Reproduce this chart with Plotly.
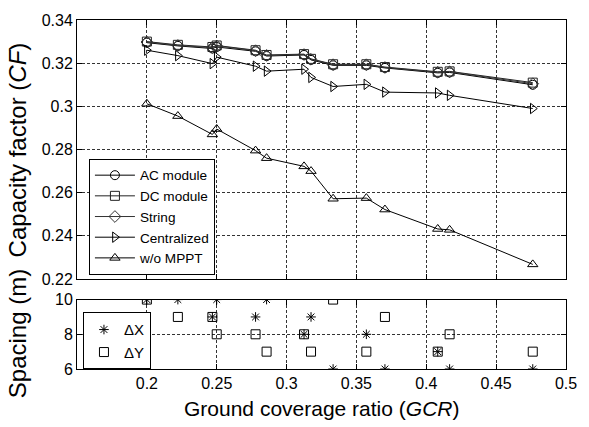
import plotly.graph_objects as go

# ---- data ----
gcr = [0.2, 0.2222, 0.2469, 0.25, 0.2778, 0.2857, 0.3125, 0.3175, 0.3333,
       0.3571, 0.3704, 0.4082, 0.4167, 0.4762]
cf_ac = [0.3295, 0.3280, 0.3268, 0.3275, 0.3255, 0.3233, 0.3238, 0.3215, 0.3190,
         0.3190, 0.3178, 0.3155, 0.3157, 0.3100]
cf_dc = [0.3300, 0.3285, 0.3275, 0.3282, 0.3260, 0.3238, 0.3242, 0.3220, 0.3195,
         0.3195, 0.3182, 0.3160, 0.3162, 0.3110]
cf_string = [0.3298, 0.3282, 0.3272, 0.3280, 0.3258, 0.3236, 0.3240, 0.3218, 0.3193,
             0.3193, 0.3180, 0.3158, 0.3160, 0.3105]
cf_central = [0.3260, 0.3235, 0.3198, 0.3228, 0.3186, 0.3163, 0.3172, 0.3134, 0.3092,
              0.3102, 0.3066, 0.3062, 0.3051, 0.2990]
cf_nomppt = [0.3012, 0.2955, 0.2870, 0.2895, 0.2795, 0.2760, 0.2722, 0.2700, 0.2572,
             0.2575, 0.2522, 0.2432, 0.2428, 0.2268]
dx = [10, 10, 9, 10, 9, 10, 8, 9, 6, 8, 6, 7, 6, 6]
dy = [10, 9, 9, 8, 8, 7, 8, 7, 10, 7, 9, 7, 8, 7]

x_ticks = [0.2, 0.25, 0.3, 0.35, 0.4, 0.45, 0.5]
x_ticklabels = ["0.2", "0.25", "0.3", "0.35", "0.4", "0.45", "0.5"]
cf_ticks = [0.22, 0.24, 0.26, 0.28, 0.3, 0.32, 0.34]
cf_ticklabels = ["0.22", "0.24", "0.26", "0.28", "0.3", "0.32", "0.34"]
sp_ticks = [6, 8, 10]

FONT = "Liberation Sans, Arial, Helvetica, sans-serif"
W, H = 589, 427
L, R, T, B = 77, 20, 12, 58
PH = H - T - B

fig = go.Figure()

series = [
    ("AC module", cf_ac, "circle-open", "#000000"),
    ("DC module", cf_dc, "square-open", "#222222"),
    ("String", cf_string, "diamond-open", "#333333"),
    ("Centralized", cf_central, "triangle-right-open", "#000000"),
    ("w/o MPPT", cf_nomppt, "triangle-up-open", "#000000"),
]
for name, ys, sym, col in series:
    fig.add_trace(go.Scatter(
        x=gcr, y=ys, name=name, mode="lines+markers",
        line=dict(color=col, width=1),
        marker=dict(symbol=sym, size=9, color=col, line=dict(width=1, color=col)),
        xaxis="x", yaxis="y", legend="legend"))

fig.add_trace(go.Scatter(
    x=gcr, y=dx, name="ΔX", mode="markers",
    marker=dict(symbol="asterisk-open", size=8, color="black", line=dict(width=1, color="black")),
    xaxis="x2", yaxis="y2", legend="legend2"))
fig.add_trace(go.Scatter(
    x=gcr, y=dy, name="ΔY", mode="markers",
    marker=dict(symbol="square-open", size=9, color="black", line=dict(width=1, color="black")),
    xaxis="x2", yaxis="y2", legend="legend2"))

def py(p):  # pixel y -> paper
    return (H - B - p) / PH

def px(p):
    return (p - L) / (W - L - R)

axis_common = dict(
    showline=True, linecolor="black", linewidth=1, mirror="ticks",
    ticks="inside", ticklen=5, tickcolor="black",
    showgrid=True, gridcolor="#333333", gridwidth=1, griddash="3px,2px",
    zeroline=False, tickfont=dict(family=FONT, size=16, color="black"),
)

top_dom = [py(277), 1.0]
bot_dom = [0.0, py(298)]

fig.update_layout(
    width=W, height=H,
    margin=dict(l=L, r=R, t=T, b=B),
    paper_bgcolor="white", plot_bgcolor="white",
    font=dict(family=FONT, color="black"),
    xaxis=dict(range=[0.15, 0.5], tickvals=x_ticks, showticklabels=False,
               domain=[0, 1], anchor="y", **axis_common),
    yaxis=dict(range=[0.22, 0.34], tickvals=cf_ticks, ticktext=cf_ticklabels,
               domain=top_dom, anchor="x", **axis_common),
    xaxis2=dict(range=[0.15, 0.5], tickvals=x_ticks, ticktext=x_ticklabels,
                domain=[0, 1], anchor="y2", **axis_common),
    yaxis2=dict(range=[6, 10], tickvals=sp_ticks, domain=bot_dom, anchor="x2",
                **axis_common),
    legend=dict(x=px(89), y=py(154), xanchor="left", yanchor="top",
                bordercolor="black", borderwidth=1, bgcolor="white",
                font=dict(family=FONT, size=13.6, color="black"),
                itemwidth=40, tracegroupgap=0),
    legend2=dict(x=px(83), y=py(311), xanchor="left", yanchor="top",
                 bordercolor="black", borderwidth=1, bgcolor="white",
                 font=dict(family=FONT, size=15, color="black"),
                 itemwidth=30, tracegroupgap=0),
    showlegend=True,
)

fig.add_annotation(text="Capacity factor (<i>CF</i>)", xref="paper", yref="paper",
                   x=px(17), y=py(145), textangle=-90, showarrow=False,
                   xanchor="center", yanchor="middle",
                   font=dict(family=FONT, size=24, color="black"))
fig.add_annotation(text="Spacing (m)", xref="paper", yref="paper",
                   x=px(17), y=py(333), textangle=-90, showarrow=False,
                   xanchor="center", yanchor="middle",
                   font=dict(family=FONT, size=24, color="black"))
fig.add_annotation(text="Ground coverage ratio (<i>GCR</i>)", xref="paper", yref="paper",
                   x=px(323), y=py(409), showarrow=False,
                   xanchor="center", yanchor="middle",
                   font=dict(family=FONT, size=21, color="black"))

fig.write_html("out.html")
